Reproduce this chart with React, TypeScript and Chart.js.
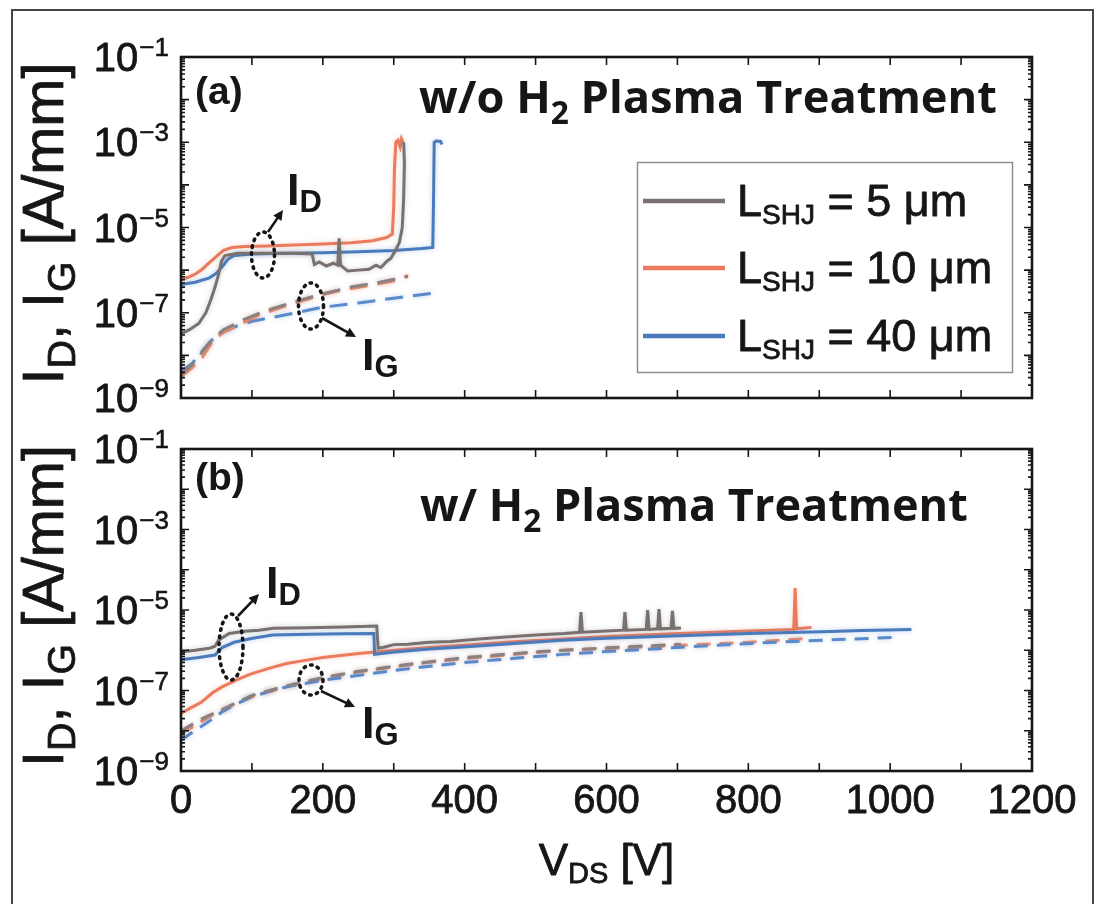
import { useEffect, useRef } from 'react';
import { Chart, registerables } from 'chart.js';

Chart.register(...registerables);

// ---------------- axis / tick data ----------------
const xTickValues = [0, 200, 400, 600, 800, 1000, 1200];
const xTickLabels = ['0', '200', '400', '600', '800', '1000', '1200'];
const xTickMarks = [100, 200, 300, 400, 500, 600, 700, 800, 900, 1000, 1100];
const yDecadeValues = [1e-9, 1e-8, 1e-7, 1e-6, 1e-5, 1e-4, 1e-3, 1e-2, 1e-1];
const yMinorMultipliers = [2, 3, 4, 5, 6, 7, 8, 9];
const yLabelValues = [1e-1, 1e-3, 1e-5, 1e-7, 1e-9];
const yLabelSups = ['\u22121', '\u22123', '\u22125', '\u22127', '\u22129'];
const legendValues = ['= 5 \u03bcm', '= 10 \u03bcm', '= 40 \u03bcm'];

// ---------------- panel (a): w/o H2 plasma ----------------
const aGrayIdV = [0, 12, 25, 35, 42, 48, 53, 57, 62, 80, 120, 160, 185, 188, 195, 205, 215, 221, 223, 225, 235, 250, 265, 275, 282, 290, 296, 302, 308, 312, 314, 315, 314];
const aGrayIdI = [3.2e-8, 4.0e-8, 5.6e-8, 1.0e-7, 2.0e-7, 4.0e-7, 7.9e-7, 1.6e-6, 2.2e-6, 2.5e-6, 2.5e-6, 2.5e-6, 2.4e-6, 1.35e-6, 1.55e-6, 1.25e-6, 1.45e-6, 1.3e-6, 5.6e-6, 1.3e-6, 9.5e-7, 1.0e-6, 1.05e-6, 1.3e-6, 1.15e-6, 1.6e-6, 1.9e-6, 2.8e-6, 4.5e-6, 1.0e-5, 5.0e-5, 3.2e-4, 1.0e-3];
const aOrangeIdV = [0, 10, 20, 30, 40, 50, 60, 72, 90, 120, 160, 200, 240, 270, 290, 298, 300, 301, 303, 306, 309, 311, 313];
const aOrangeIdI = [6.0e-7, 6.8e-7, 8.0e-7, 1.05e-6, 1.5e-6, 2.1e-6, 2.9e-6, 3.4e-6, 3.6e-6, 3.7e-6, 3.9e-6, 4.1e-6, 4.4e-6, 4.9e-6, 5.8e-6, 7.0e-6, 3.16e-5, 2.5e-4, 1.0e-3, 1.12e-3, 7.9e-4, 1.2e-3, 1.0e-3];
const aBlueIdV = [0, 20, 40, 50, 58, 66, 75, 100, 150, 200, 250, 300, 340, 355, 356, 357, 360, 366, 368];
const aBlueIdI = [4.6e-7, 5.2e-7, 6.6e-7, 8.5e-7, 1.2e-6, 1.8e-6, 2.2e-6, 2.4e-6, 2.5e-6, 2.55e-6, 2.7e-6, 2.9e-6, 3.2e-6, 3.4e-6, 3.2e-5, 1.0e-3, 1.07e-3, 1.05e-3, 8.9e-4];
const aGrayIgV = [0, 20, 40, 60, 90, 120, 160, 200, 240, 280, 320];
const aGrayIgI = [3.5e-9, 7.1e-9, 2.0e-8, 4.0e-8, 7.1e-8, 1.12e-7, 1.8e-7, 2.8e-7, 4.0e-7, 5.2e-7, 7.1e-7];
const aOrangeIgV = [0, 15, 30, 45, 60, 80, 110, 150, 190, 230, 270, 310, 320];
const aOrangeIgI = [3.2e-9, 5.0e-9, 8.9e-9, 2.2e-8, 3.5e-8, 5.0e-8, 8.9e-8, 1.5e-7, 2.4e-7, 3.5e-7, 4.5e-7, 6.0e-7, 7.6e-7];
const aBlueIgV = [0, 15, 30, 45, 60, 80, 100, 150, 200, 250, 300, 365];
const aBlueIgI = [4.2e-9, 6.3e-9, 1.26e-8, 2.4e-8, 3.5e-8, 5.0e-8, 6.3e-8, 9.1e-8, 1.35e-7, 1.7e-7, 2.2e-7, 3.0e-7];

// ---------------- panel (b): w/ H2 plasma ----------------
const bGrayIdV = [0, 20, 40, 48, 53, 68, 90, 110, 130, 180, 230, 276, 278, 285, 300, 320, 350, 380, 420, 453, 500, 540, 562, 564, 566, 600, 624, 626, 628, 656, 658, 660, 672, 674, 676, 691, 693, 695, 705];
const bGrayIdI = [9.1e-7, 1.0e-6, 1.12e-6, 1.26e-6, 1.78e-6, 2.6e-6, 2.95e-6, 3.16e-6, 3.5e-6, 3.6e-6, 3.8e-6, 4.0e-6, 1.12e-6, 1.17e-6, 1.38e-6, 1.41e-6, 1.58e-6, 1.66e-6, 1.9e-6, 2.1e-6, 2.4e-6, 2.6e-6, 2.8e-6, 8.9e-6, 2.8e-6, 3.0e-6, 3.16e-6, 8.9e-6, 3.16e-6, 3.3e-6, 1.0e-5, 3.3e-6, 3.4e-6, 1.05e-5, 3.4e-6, 3.5e-6, 9.5e-6, 3.5e-6, 3.55e-6];
const bOrangeIdV = [0, 15, 28, 45, 58, 80, 99, 125, 149, 175, 200, 251, 301, 350, 403, 470, 538, 600, 703, 800, 864, 866, 868, 889];
const bOrangeIdI = [2.7e-8, 3.8e-8, 5.0e-8, 8.9e-8, 1.23e-7, 1.9e-7, 2.6e-7, 3.6e-7, 4.7e-7, 5.6e-7, 6.6e-7, 8.3e-7, 1.0e-6, 1.17e-6, 1.35e-6, 1.62e-6, 1.9e-6, 2.2e-6, 2.6e-6, 3.0e-6, 3.3e-6, 3.5e-5, 3.4e-6, 3.7e-6];
const bBlueIdV = [0, 25, 48, 58, 75, 99, 129, 180, 230, 272, 273, 301, 350, 403, 470, 538, 600, 703, 800, 904, 960, 1030];
const bBlueIdI = [5.8e-7, 6.6e-7, 7.6e-7, 1.17e-6, 1.58e-6, 1.95e-6, 2.4e-6, 2.5e-6, 2.57e-6, 2.6e-6, 7.9e-7, 9.1e-7, 1.07e-6, 1.23e-6, 1.48e-6, 1.78e-6, 2.0e-6, 2.3e-6, 2.6e-6, 2.9e-6, 3.1e-6, 3.3e-6];
const bGrayIgV = [0, 30, 60, 100, 150, 200, 250, 300, 400, 500, 600, 705];
const bGrayIgI = [1.0e-8, 2.0e-8, 3.5e-8, 7.6e-8, 1.32e-7, 2.1e-7, 3.0e-7, 4.0e-7, 6.6e-7, 9.1e-7, 1.15e-6, 1.41e-6];
const bOrangeIgV = [0, 15, 28, 45, 58, 80, 99, 125, 149, 175, 200, 251, 301, 350, 403, 470, 538, 600, 700, 800, 889];
const bOrangeIgI = [8.5e-9, 1.2e-8, 1.66e-8, 2.5e-8, 3.2e-8, 5.0e-8, 6.9e-8, 9.5e-8, 1.23e-7, 1.58e-7, 2.0e-7, 2.9e-7, 3.9e-7, 5.0e-7, 6.3e-7, 7.9e-7, 1.0e-6, 1.1e-6, 1.32e-6, 1.58e-6, 2.0e-6];
const bBlueIgV = [0, 15, 28, 45, 58, 80, 99, 125, 149, 175, 200, 251, 301, 350, 403, 470, 538, 600, 700, 804, 904, 1010];
const bBlueIgI = [5.8e-9, 8.9e-9, 1.26e-8, 2.0e-8, 2.95e-8, 4.8e-8, 6.9e-8, 9.5e-8, 1.23e-7, 1.5e-7, 1.8e-7, 2.4e-7, 3.16e-7, 4.0e-7, 5.0e-7, 6.3e-7, 7.9e-7, 9.3e-7, 1.17e-6, 1.48e-6, 1.78e-6, 2.1e-6];

// ---------------- styles ----------------
const W = 1098;
const GRAY = '#78716f';
const ORANGE = '#eb7b5d';
const BLUE = '#4a7bbd';
const GRAY_D = '#8a8281';
const ORANGE_D = '#ef8a6c';
const BLUE_D = '#5a8bcc';
const SANS = '"Liberation Sans", Arial, sans-serif';
const TITLE_FONT = '"Open Sans", Lato, sans-serif';
const INK = '#161616';

const pts = (v: number[], i: number[]) => v.map((x, k) => ({ x, y: i[k] }));

function solid(v: number[], i: number[], color: string, glow: string) {
  return { data: pts(v, i), showLine: true, pointRadius: 0, borderColor: color, borderWidth: 3, tension: 0, fill: false, glow };
}
function dashed(v: number[], i: number[], color: string, glow: string, dash: number[]) {
  return { data: pts(v, i), showLine: true, pointRadius: 0, borderColor: color, borderWidth: 3, borderDash: dash, tension: 0, fill: false, glow };
}

type Run = { t: string; size: number; weight?: string; fam?: string; dy?: number };

function runsWidth(ctx: CanvasRenderingContext2D, runs: Run[]) {
  let w = 0;
  for (const r of runs) {
    ctx.font = `${r.weight || '400'} ${r.size}px ${r.fam || SANS}`;
    w += ctx.measureText(r.t).width;
  }
  return w;
}
function drawRuns(ctx: CanvasRenderingContext2D, runs: Run[], x: number, y: number, align: 'left' | 'center' | 'right', thicken = 0) {
  const total = runsWidth(ctx, runs);
  let cx = align === 'left' ? x : align === 'center' ? x - total / 2 : x - total;
  ctx.textAlign = 'left';
  ctx.textBaseline = 'alphabetic';
  for (const r of runs) {
    ctx.font = `${r.weight || '400'} ${r.size}px ${r.fam || SANS}`;
    ctx.fillText(r.t, cx, y + (r.dy || 0));
    if (thicken > 0) {
      ctx.save();
      ctx.lineWidth = thicken;
      ctx.strokeStyle = ctx.fillStyle as string;
      ctx.lineJoin = 'round';
      ctx.strokeText(r.t, cx, y + (r.dy || 0));
      ctx.restore();
    }
    cx += ctx.measureText(r.t).width;
  }
}

function dottedEllipse(ctx: CanvasRenderingContext2D, cx: number, cy: number, rx: number, ry: number) {
  ctx.save();
  ctx.setLineDash([1.5, 5.5]);
  ctx.lineCap = 'round';
  ctx.lineWidth = 3.6;
  ctx.strokeStyle = INK;
  ctx.beginPath();
  ctx.ellipse(cx, cy, rx, ry, 0, 0, Math.PI * 2);
  ctx.stroke();
  ctx.restore();
}
function arrow(ctx: CanvasRenderingContext2D, x1: number, y1: number, x2: number, y2: number) {
  const ang = Math.atan2(y2 - y1, x2 - x1);
  const hl = 10, hw = 5;
  ctx.save();
  ctx.strokeStyle = INK;
  ctx.fillStyle = INK;
  ctx.lineWidth = 2.6;
  ctx.beginPath();
  ctx.moveTo(x1, y1);
  ctx.lineTo(x2 - Math.cos(ang) * hl * 0.8, y2 - Math.sin(ang) * hl * 0.8);
  ctx.stroke();
  ctx.beginPath();
  ctx.moveTo(x2, y2);
  ctx.lineTo(x2 - Math.cos(ang) * hl - Math.sin(ang) * hw, y2 - Math.sin(ang) * hl + Math.cos(ang) * hw);
  ctx.lineTo(x2 - Math.cos(ang) * hl + Math.sin(ang) * hw, y2 - Math.sin(ang) * hl - Math.cos(ang) * hw);
  ctx.closePath();
  ctx.fill();
  ctx.restore();
}

type Spec = {
  top: number;
  h: number;
  padding: { left: number; right: number; top: number; bottom: number };
  datasets: any[];
  tag: string;
  tagBase: number;
  titlePrefix: string;
  titleLeft: number;
  titleRight: number;
  titleBase: number;
  idEll: number[];
  idArrow: number[];
  idText: number[];
  igEll: number[];
  igArrow: number[];
  igText: number[];
  showXLabels: boolean;
  showLegend: boolean;
};

const glowPlugin = {
  id: 'glow',
  beforeDatasetDraw(chart: any, args: any) {
    const ds = chart.data.datasets[args.index];
    chart.ctx.save();
    chart.ctx.shadowColor = ds.glow;
    chart.ctx.shadowBlur = 5;
  },
  afterDatasetDraw(chart: any) {
    chart.ctx.restore();
  },
};

function decor(spec: Spec) {
  return {
    id: 'decor',
    afterDraw(chart: any) {
      const ctx: CanvasRenderingContext2D = chart.ctx;
      const xs = chart.scales.x;
      const ys = chart.scales.y;
      const a = chart.chartArea;
      ctx.save();
      ctx.fillStyle = INK;
      ctx.strokeStyle = INK;

      // tick marks (inward, all four sides)
      ctx.lineWidth = 1.6;
      ctx.beginPath();
      for (const v of xTickMarks) {
        const px = xs.getPixelForValue(v);
        ctx.moveTo(px, a.bottom); ctx.lineTo(px, a.bottom - 8);
        ctx.moveTo(px, a.top); ctx.lineTo(px, a.top + 8);
      }
      for (const d of yDecadeValues) {
        const py = ys.getPixelForValue(d);
        ctx.moveTo(a.left, py); ctx.lineTo(a.left + 8, py);
        ctx.moveTo(a.right, py); ctx.lineTo(a.right - 8, py);
        if (d < 1e-1) {
          for (const m of yMinorMultipliers) {
            const pm = ys.getPixelForValue(d * m);
            ctx.moveTo(a.left, pm); ctx.lineTo(a.left + 4, pm);
            ctx.moveTo(a.right, pm); ctx.lineTo(a.right - 4, pm);
          }
        }
      }
      ctx.stroke();

      // box
      ctx.lineWidth = 2.6;
      ctx.strokeRect(a.left, a.top, a.right - a.left, a.bottom - a.top);

      // y tick labels 10^-n
      const labRight = 169;
      yLabelValues.forEach((v, k) => {
        const py = ys.getPixelForValue(v);
        ctx.font = `400 26px ${SANS}`;
        const sw = ctx.measureText(yLabelSups[k]).width;
        drawRuns(ctx, [{ t: yLabelSups[k], size: 26 }], labRight - sw, py - 1, 'left', 0.6);
        drawRuns(ctx, [{ t: '10', size: 40 }], labRight - sw - 1, py + 14, 'right', 0.8);
      });

      // y axis title (rotated)
      {
        const base: Run[] = [
          { t: 'I', size: 1 },
          { t: 'D', size: 0.68, dy: 0.2 },
          { t: ', I', size: 1 },
          { t: 'G', size: 0.68, dy: 0.2 },
          { t: ' [A/mm]', size: 1 },
        ];
        const probe = base.map((r) => ({ ...r, size: r.size * 50 }));
        const s = (50 * 322) / runsWidth(ctx, probe);
        const runs = base.map((r) => ({ ...r, size: r.size * s, dy: (r.dy || 0) * s }));
        ctx.save();
        ctx.translate(63, (a.top + a.bottom) / 2 - 4);
        ctx.rotate(-Math.PI / 2);
        drawRuns(ctx, runs, 0, 0, 'center', 0.8);
        ctx.restore();
      }

      // x tick labels + x title
      if (spec.showXLabels) {
        xTickValues.forEach((v, k) => {
          drawRuns(ctx, [{ t: xTickLabels[k], size: 40 }], xs.getPixelForValue(v), a.bottom + 42, 'center', 0.8);
        });
        drawRuns(
          ctx,
          [
            { t: 'V', size: 44 },
            { t: 'DS', size: 29, dy: 8 },
            { t: ' [V]', size: 44 },
          ],
          (a.left + a.right) / 2,
          a.bottom + 104,
          'center',
          0.8
        );
      }

      // panel tag
      drawRuns(ctx, [{ t: spec.tag, size: 39, weight: '700' }], 195, spec.tagBase, 'left');

      // title with H2
      {
        const base: Run[] = [
          { t: spec.titlePrefix, size: 1, weight: '700', fam: TITLE_FONT },
          { t: '2', size: 0.7, weight: '700', fam: TITLE_FONT, dy: 0.25 },
          { t: ' Plasma Treatment', size: 1, weight: '700', fam: TITLE_FONT },
        ];
        const probe = base.map((r) => ({ ...r, size: r.size * 44 }));
        const target = spec.titleRight - spec.titleLeft;
        const s = Math.min(52, (44 * target) / runsWidth(ctx, probe));
        const runs = base.map((r) => ({ ...r, size: r.size * s, dy: (r.dy || 0) * s }));
        drawRuns(ctx, runs, spec.titleLeft, spec.titleBase, 'left');
      }

      // annotations
      dottedEllipse(ctx, spec.idEll[0], spec.idEll[1], spec.idEll[2], spec.idEll[3]);
      arrow(ctx, spec.idArrow[0], spec.idArrow[1], spec.idArrow[2], spec.idArrow[3]);
      drawRuns(ctx, [{ t: 'I', size: 45, weight: '700' }, { t: 'D', size: 31, weight: '700', dy: 7 }], spec.idText[0], spec.idText[1], 'left');
      dottedEllipse(ctx, spec.igEll[0], spec.igEll[1], spec.igEll[2], spec.igEll[3]);
      arrow(ctx, spec.igArrow[0], spec.igArrow[1], spec.igArrow[2], spec.igArrow[3]);
      drawRuns(ctx, [{ t: 'I', size: 45, weight: '700' }, { t: 'G', size: 31, weight: '700', dy: 7 }], spec.igText[0], spec.igText[1], 'left');

      // legend
      if (spec.showLegend) {
        const bx = 637.5, by = 162.5, bw = 375, bh = 210;
        ctx.fillStyle = '#fff';
        ctx.fillRect(bx, by, bw, bh);
        ctx.strokeStyle = '#8e8e8e';
        ctx.lineWidth = 1.5;
        ctx.strokeRect(bx, by, bw, bh);
        const rows = [201, 268, 336];
        const cols = [GRAY, ORANGE, BLUE];
        rows.forEach((ry, k) => {
          ctx.save();
          ctx.strokeStyle = cols[k];
          ctx.lineWidth = 4.5;
          ctx.beginPath();
          ctx.moveTo(643, ry);
          ctx.lineTo(725, ry);
          ctx.stroke();
          ctx.restore();
          ctx.fillStyle = INK;
          drawRuns(
            ctx,
            [
              { t: 'L', size: 45 },
              { t: 'SHJ', size: 28, dy: 8 },
              { t: ' ' + legendValues[k], size: 45 },
            ],
            737,
            ry + 15,
            'left',
            0.8
          );
        });
      }
      ctx.restore();
    },
  };
}

const specA: Spec = {
  top: 0,
  h: 420,
  padding: { left: 181, right: W - 1032, top: 57, bottom: 420 - 398 },
  datasets: [
    dashed(aGrayIgV, aGrayIgI, GRAY_D, 'rgba(120,113,111,0.35)', [18, 10]),
    dashed(aOrangeIgV, aOrangeIgI, ORANGE_D, 'rgba(235,123,93,0.35)', [18, 10]),
    dashed(aBlueIgV, aBlueIgI, BLUE_D, 'rgba(90,139,204,0.4)', [18, 10]),
    solid(aGrayIdV, aGrayIdI, GRAY, 'rgba(120,113,111,0.35)'),
    solid(aBlueIdV, aBlueIdI, BLUE, 'rgba(90,139,204,0.4)'),
    solid(aOrangeIdV, aOrangeIdI, ORANGE, 'rgba(235,123,93,0.35)'),
  ],
  tag: '(a)',
  tagBase: 104,
  titlePrefix: 'w/o H',
  titleLeft: 419,
  titleRight: 997,
  titleBase: 113,
  idEll: [263, 255, 11.5, 23],
  idArrow: [268, 232, 283, 210],
  idText: [287, 205],
  igEll: [311, 306, 12.5, 23],
  igArrow: [322, 318, 356, 337],
  igText: [362, 370],
  showXLabels: false,
  showLegend: true,
};

const specB: Spec = {
  top: 420,
  h: 484,
  padding: { left: 181, right: W - 1032, top: 449 - 420, bottom: 904 - 771 },
  datasets: [
    dashed(bGrayIgV, bGrayIgI, GRAY_D, 'rgba(120,113,111,0.35)', [14, 9]),
    dashed(bBlueIgV, bBlueIgI, BLUE_D, 'rgba(90,139,204,0.4)', [14, 9]),
    dashed(bOrangeIgV, bOrangeIgI, ORANGE_D, 'rgba(235,123,93,0.35)', [14, 9]),
    solid(bGrayIdV, bGrayIdI, GRAY, 'rgba(120,113,111,0.35)'),
    solid(bBlueIdV, bBlueIdI, BLUE, 'rgba(90,139,204,0.4)'),
    solid(bOrangeIdV, bOrangeIdI, ORANGE, 'rgba(235,123,93,0.35)'),
  ],
  tag: '(b)',
  tagBase: 490 - 420,
  titlePrefix: 'w/ H',
  titleLeft: 420,
  titleRight: 968,
  titleBase: 521 - 420,
  idEll: [231, 647 - 420, 12, 33],
  idArrow: [238, 616 - 420, 259, 594 - 420],
  idText: [266, 598 - 420],
  igEll: [311, 680 - 420, 12, 15],
  igArrow: [321, 691 - 420, 355, 707 - 420],
  igText: [362, 738 - 420],
  showXLabels: true,
  showLegend: false,
};

function Panel({ spec }: { spec: Spec }) {
  const ref = useRef<HTMLCanvasElement>(null);
  useEffect(() => {
    const chart = new Chart(ref.current as HTMLCanvasElement, {
      type: 'scatter',
      data: { datasets: spec.datasets },
      options: {
        animation: false,
        responsive: false,
        devicePixelRatio: 1,
        events: [],
        layout: { padding: spec.padding },
        scales: {
          x: { type: 'linear', min: 0, max: 1200, display: false },
          y: { type: 'logarithmic', min: 1e-9, max: 1e-1, display: false },
        },
        plugins: { legend: { display: false }, tooltip: { enabled: false }, title: { display: false } },
      } as any,
      plugins: [glowPlugin, decor(spec)],
    });
    return () => chart.destroy();
  }, []);
  return (
    <canvas
      ref={ref}
      width={W}
      height={spec.h}
      style={{ position: 'absolute', left: 0, top: spec.top, width: W, height: spec.h, display: 'block' }}
    />
  );
}

export default function App() {
  return (
    <div style={{ position: 'fixed', left: 0, top: 0, width: W, height: 904, overflow: 'hidden', background: '#fff' }}>
      <div
        style={{
          position: 'absolute',
          left: 11,
          top: 9,
          width: 1083,
          height: 1000,
          border: '2px solid #454545',
          boxSizing: 'border-box',
        }}
      />
      <Panel spec={specA} />
      <Panel spec={specB} />
    </div>
  );
}
